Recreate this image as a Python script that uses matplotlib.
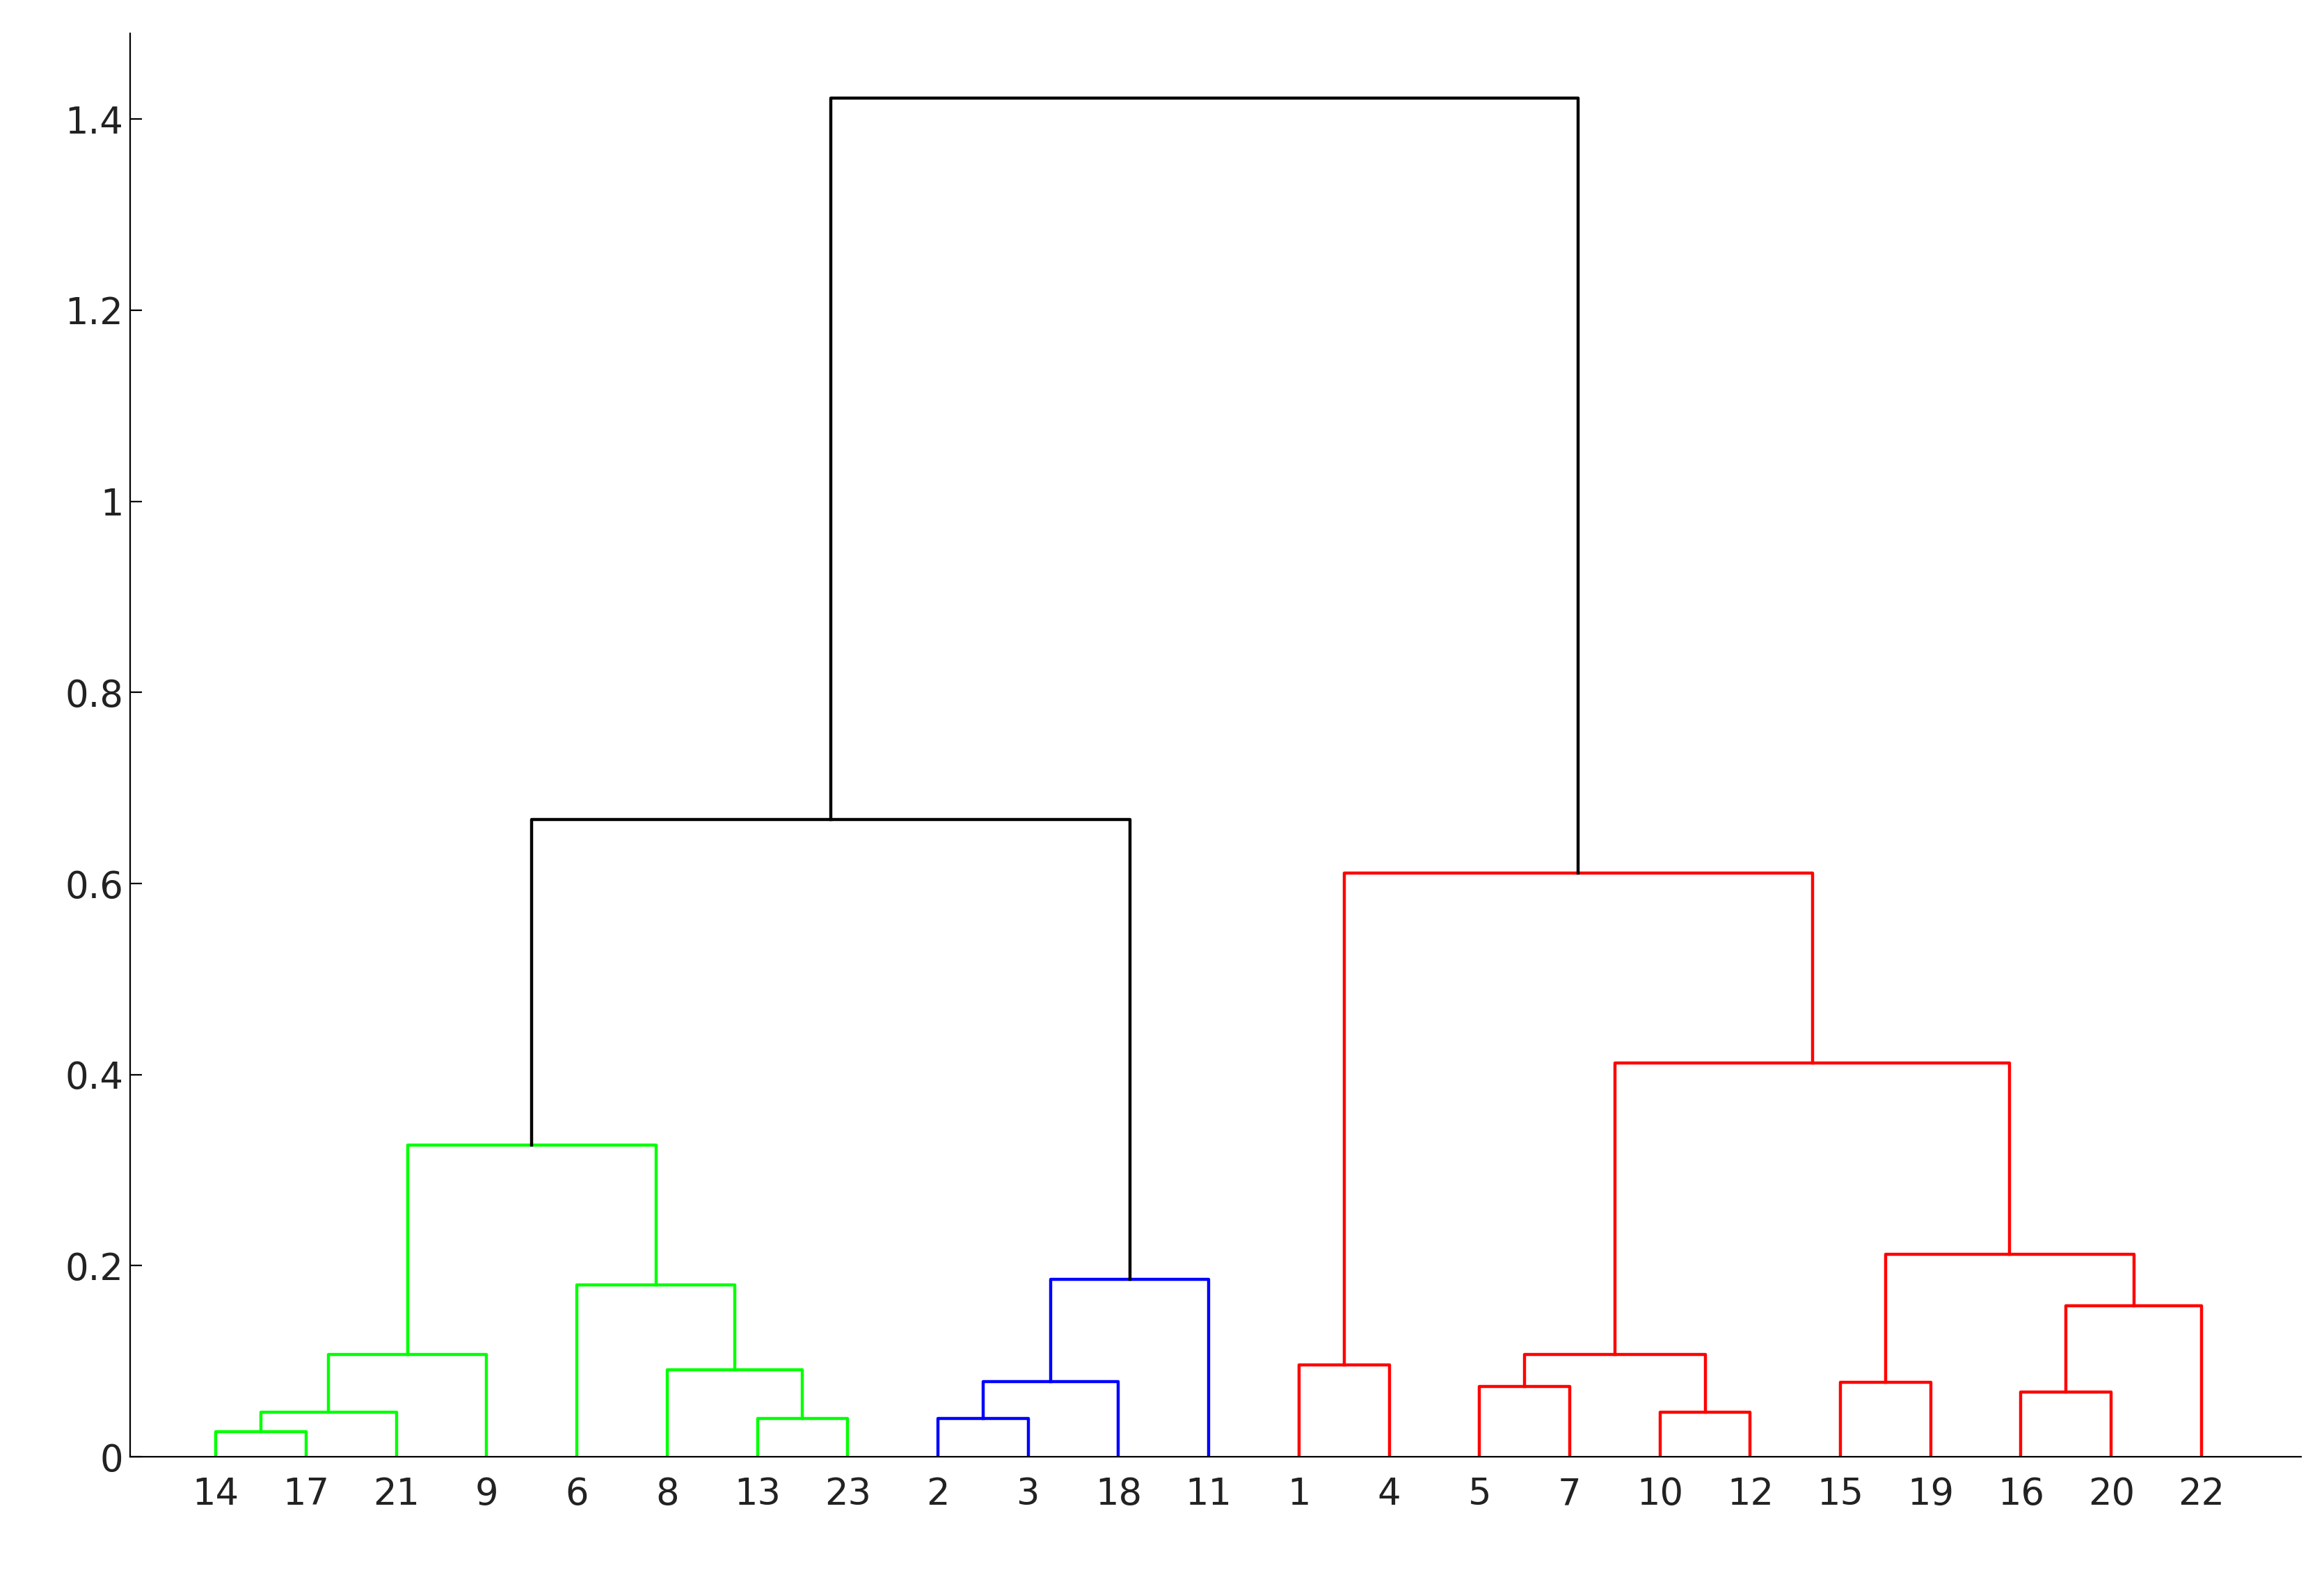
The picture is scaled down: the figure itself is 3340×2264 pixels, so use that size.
import matplotlib.pyplot as plt

# leaf labels in display order
leaf_order = [14, 17, 21, 9, 6, 8, 13, 23, 2, 3, 18, 11, 1, 4, 5, 7, 10, 12, 15, 19, 16, 20, 22]

# merges: (left, right, height, colour); ints are leaves, strings are earlier merges
merges = {
    "a": (14, 17, 0.026, "#00ff00"),
    "b": ("a", 21, 0.047, "#00ff00"),
    "c": ("b", 9, 0.107, "#00ff00"),
    "d": (13, 23, 0.040, "#00ff00"),
    "e": (8, "d", 0.091, "#00ff00"),
    "f": (6, "e", 0.180, "#00ff00"),
    "g": ("c", "f", 0.326, "#00ff00"),
    "h": (2, 3, 0.040, "#0000ff"),
    "i": ("h", 18, 0.079, "#0000ff"),
    "j": ("i", 11, 0.186, "#0000ff"),
    "k": ("g", "j", 0.667, "black"),
    "l": (1, 4, 0.096, "#ff0000"),
    "m": (5, 7, 0.074, "#ff0000"),
    "n": (10, 12, 0.047, "#ff0000"),
    "o": ("m", "n", 0.107, "#ff0000"),
    "p": (15, 19, 0.078, "#ff0000"),
    "q": (16, 20, 0.068, "#ff0000"),
    "r": ("q", 22, 0.158, "#ff0000"),
    "s": ("p", "r", 0.212, "#ff0000"),
    "t": ("o", "s", 0.412, "#ff0000"),
    "u": ("l", "t", 0.611, "#ff0000"),
    "v": ("k", "u", 1.422, "black"),
}

pos = {leaf: i + 1 for i, leaf in enumerate(leaf_order)}
height = {leaf: 0.0 for leaf in leaf_order}

fig = plt.figure(figsize=(16.7, 11.32), dpi=200)
ax = fig.add_axes([0.056, 0.075, 0.934, 0.904])

for name, (left, right, h, col) in merges.items():
    x1, x2 = pos[left], pos[right]
    ax.plot([x1, x1, x2, x2], [height[left], h, h, height[right]], color=col, lw=1.6)
    pos[name] = (x1 + x2) / 2
    height[name] = h

ax.set_xlim(0.05, 24.1)
ax.set_ylim(0, 1.49)
ax.set_xticks(range(1, len(leaf_order) + 1))
ax.set_xticklabels([str(l) for l in leaf_order])
ax.set_yticks([0, 0.2, 0.4, 0.6, 0.8, 1, 1.2, 1.4])
ax.set_yticklabels(["0", "0.2", "0.4", "0.6", "0.8", "1", "1.2", "1.4"])
ax.tick_params(direction="in", labelsize=19, length=6, color="black", labelcolor="#222222")
ax.tick_params(axis="x", pad=10)
ax.spines["top"].set_visible(False)
ax.spines["right"].set_visible(False)

fig.savefig("out.png")
